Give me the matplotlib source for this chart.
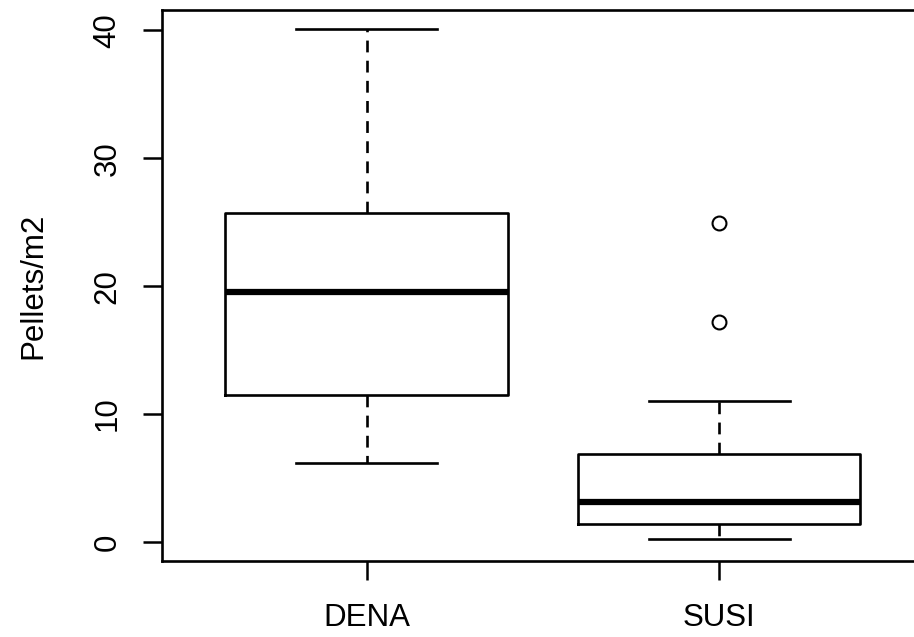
import matplotlib
matplotlib.use('Agg')
import matplotlib.pyplot as plt

# Five-number summaries per site (pellets per square metre)
sites = ['DENA', 'SUSI']
whisker_low = [6.15, 0.2]
q1 = [11.5, 1.4]
median = [19.55, 3.15]
q3 = [25.7, 6.9]
whisker_high = [40.1, 11.0]
outliers = [[], [17.2, 24.9]]
yticks = [0, 10, 20, 30, 40]

plt.rcParams['font.family'] = ['Liberation Sans', 'DejaVu Sans']
plt.rcParams['lines.scale_dashes'] = False

fig = plt.figure(figsize=(9.14, 6.37), dpi=100)
# plot region runs past the right edge of the figure
ax = fig.add_axes([162 / 914, 76 / 637, 762 / 914, 551 / 637])

stats = []
for i, name in enumerate(sites):
    stats.append({
        'label': name,
        'whislo': whisker_low[i],
        'q1': q1[i],
        'med': median[i],
        'q3': q3[i],
        'whishi': whisker_high[i],
        'fliers': outliers[i],
    })

lw = 1.9
ax.bxp(stats, positions=[1, 2], widths=0.8, capwidths=0.4,
       boxprops=dict(color='black', linewidth=lw),
       medianprops=dict(color='black', linewidth=4.5, solid_capstyle='butt'),
       whiskerprops=dict(color='black', linewidth=lw, linestyle=(0, (8.5, 6))),
       capprops=dict(color='black', linewidth=lw),
       flierprops=dict(marker='o', markersize=10, markerfacecolor='none',
                       markeredgecolor='black', markeredgewidth=1.5))

ax.set_xlim(0.42, 2.58)
ax.set_ylim(-1.5, 41.6)

fs = 22.5
ax.set_yticks(yticks)
ax.set_yticklabels([str(v) for v in yticks], rotation=90, va='center')
ax.set_xticks([1, 2])
ax.set_xticklabels(sites)
ax.tick_params(axis='both', labelsize=fs, width=1.8, length=13.5, colors='black')
ax.tick_params(axis='y', pad=15)
ax.tick_params(axis='x', pad=17)

ax.set_ylabel('Pellets/m2', fontsize=fs)
ax.yaxis.set_label_coords(-0.149, 0.5)

for side in ['left', 'bottom', 'right', 'top']:
    ax.spines[side].set_linewidth(1.9)
    ax.spines[side].set_color('black')

fig.savefig('out.png', dpi=100)
